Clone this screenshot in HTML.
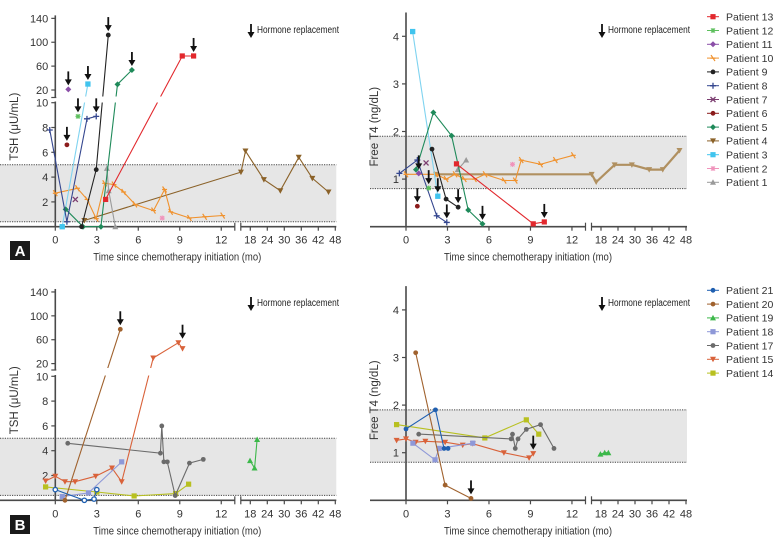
<!DOCTYPE html>
<html><head><meta charset="utf-8">
<style>
html,body{margin:0;padding:0;background:#fff;}
svg{display:block;font-family:"Liberation Sans",sans-serif;}
</style></head>
<body>
<svg id="chart" width="777" height="543" viewBox="0 0 777 543" xmlns="http://www.w3.org/2000/svg"></svg>
<script>
// ===== Panel A TSH data (months, values) =====
const aT13m=[3.64,9.18,10.0], aT13v=[2.2,77,77];
const aT12m=[1.64], aT12v=[8.9];
const aT11m=[0.94], aT11v=[21];
const aT10m=[0,1.6,2.3,2.96,3.57,4.24,4.94,5.76,7.1,7.9,8.34,9.7,10.8,12.1], aT10v=[2.7,3.1,2.2,0.65,3.5,3.4,2.8,1.8,1.3,3.0,1.2,0.7,0.8,0.9];
const aT9m=[1.9,2.96,3.83], aT9v=[0,4.6,112];
const aT8m=[-0.4,0.84,2.29,2.96], aT8v=[7.8,0.4,8.7,8.9];
const aT7m=[1.45], aT7v=[2.2];
const aT6m=[0.84], aT6v=[6.6];
const aT5m=[0.75,2.0,3.3,4.5,5.54], aT5v=[1.4,0,0,29.5,53.5];
const aT4m=[2.1,14.7,16.3,22.8,28.6,35.1,39.9,45.6], aT4v=[0.5,4.4,6.1,3.8,2.9,5.6,3.9,2.8];
const aT3m=[0.5,2.36], aT3v=[0,30];
const aT2m=[7.73], aT2v=[0.7];
const aT1m=[3.73,3.86,4.34], aT1v=[4.7,2.9,0];
const aTarrM=[0.94,2.36,3.83,5.54,10.0,1.64,2.96,0.84], aTarrV=[21,30,112,53.5,77,8.9,8.9,6.6];
// ===== Panel A FT4 =====
const aF13m=[3.65,9.2,10.0], aF13v=[1.32,0.06,0.1];
const aF12m=[1.64], aF12v=[0.81];
const aF11m=[0.92], aF11v=[1.12];
const aF10m=[0,2.17,2.9,3.55,4.22,4.95,5.72,7.1,7.9,8.33,9.73,10.8,12.1], aF10v=[1.1,1.1,1.0,1.1,1.0,1.0,1.1,0.97,0.97,1.4,1.31,1.4,1.5];
const aF9m=[1.88,2.9,3.77], aF9v=[1.63,0.58,0.41];
const aF8m=[-0.48,0.82,2.22,2.95], aF8v=[1.12,1.4,0.23,0.09];
const aF7m=[1.45], aF7v=[1.34];
const aF6m=[0.82], aF6v=[0.43];
const aF5m=[0.72,1.98,3.3,4.5,5.53], aF5v=[1.2,2.4,1.91,0.35,0.06];
const aF4m=[2.17,14.7,16.3,22.8,28.9,35.0,39.8,45.7], aF4v=[1.1,1.1,0.94,1.3,1.3,1.2,1.2,1.6];
const aF3m=[0.48,2.3], aF3v=[4.1,0.64];
const aF2m=[7.7], aF2v=[1.31];
const aF1m=[3.74,4.35], aF1v=[1.2,1.4];
const aFarrM=[0.92,0.82,1.64,2.3,2.95,3.77,5.53,10.0], aFarrV=[1.12,0.43,0.81,0.64,0.09,0.41,0.06,0.1];
// ===== Panel B TSH =====
const bT21m=[0,2.1,2.8,3.0], bT21v=[0.86,0,0.1,0.86];
const bT20m=[0.7,4.7], bT20v=[0,77.5];
const bT19m=[17.9,19.5,20.4], bT19v=[3.2,2.6,4.9];
const bT18m=[0.5,2.4,4.8], bT18v=[0.3,0.6,3.1];
const bT17m=[0.9,7.6,7.7,7.85,8.1,8.67,9.7,10.7], bT17v=[4.6,3.8,6.0,3.1,3.1,0.38,3.0,3.3];
const bT15m=[-0.7,0,0.7,1.43,2.92,4.1,4.8,7.08,8.9,9.2], bT15v=[1.56,1.94,1.5,1.5,1.94,2.6,1.5,29.4,55,45];
const bT14m=[-0.7,3.0,5.7,8.7,9.64], bT14v=[1.08,0.67,0.35,0.54,1.3];
const bTarrM=[4.7,9.2], bTarrV=[77.5,55];
// ===== Panel B FT4 =====
const bF21m=[0,2.13,2.75,3.04], bF21v=[1.5,1.9,1.09,1.09];
const bF20m=[0.7,2.83,4.7], bF20v=[3.1,0.32,0.04];
const bF19m=[17.8,19.3,20.6], bF19v=[0.97,1.0,1.0];
const bF18m=[0.5,2.1,2.4,4.83], bF18v=[1.2,0.85,1.09,1.2];
const bF17m=[0.92,7.6,7.7,7.9,8.1,8.7,9.73,10.7], bF17v=[1.39,1.29,1.39,1.09,1.29,1.49,1.59,1.09];
const bF15m=[-0.68,0,0.7,1.4,2.83,4.1,4.83,7.08,8.9,9.2], bF15v=[1.26,1.29,1.22,1.24,1.22,1.16,1.19,1.0,0.89,0.98];
const bF14m=[-0.68,5.7,8.7,9.6], bF14v=[1.59,1.31,1.69,1.39];
const bFarrM=[4.7,9.2], bFarrV=[0.04,0.98];
// tick labels
const xTicksLeft=[0,3,6,9,12], xTicksRight=[18,24,30,36,42,48];
const tshTicksLow=[2,4,6,8,10], tshTicksHigh=[20,60,100,140], ft4Ticks=[1,2,3,4];

const NS="http://www.w3.org/2000/svg";
const svg=document.getElementById('chart');
function el(tag,attrs,parent,text){const e=document.createElementNS(NS,tag);for(const k in attrs)e.setAttribute(k,attrs[k]);if(text!==undefined)e.textContent=text;(parent||svg).appendChild(e);return e;}

const AX="#4a4a4a";
function xs(P,m){return m<=13.5?P.x0+m*13.83:P.x0+195+(m-18)*17/6;}
function ysT(P,v){return v<=10?P.y0-v*12.4:P.y0-136.7-(v-20)*0.597;}
function ysF(P,v){return P.y0-v*47.6;}

function marker(g,shape,x,y,c){
  let e;
  if(shape==='sq'){e=el('rect',{x:x-2.6,y:y-2.6,width:5.2,height:5.2,fill:c},g);}
  else if(shape==='ci'){e=el('circle',{cx:x,cy:y,r:2.4,fill:c},g);}
  else if(shape==='oc'){e=el('circle',{cx:x,cy:y,r:2.2,fill:'#fff',stroke:c,'stroke-width':1.3},g);}
  else if(shape==='td'){e=el('polygon',{points:`${x-3},${y-2.5} ${x+3},${y-2.5} ${x},${y+3}`,fill:c},g);}
  else if(shape==='tu'){e=el('polygon',{points:`${x-3},${y+2.5} ${x+3},${y+2.5} ${x},${y-3}`,fill:c},g);}
  else if(shape==='pl'){e=el('path',{d:`M${x-3} ${y}H${x+3}M${x} ${y-3}V${y+3}`,stroke:c,'stroke-width':1.3},g);}
  else if(shape==='x'){e=el('path',{d:`M${x-2.5} ${y-2.5}L${x+2.5} ${y+2.5}M${x-2.5} ${y+2.5}L${x+2.5} ${y-2.5}`,stroke:c,'stroke-width':1.3},g);}
  else if(shape==='st'){e=el('path',{d:`M${x-2.5} ${y}H${x+2.5}M${x} ${y-2.5}V${y+2.5}M${x-2} ${y-2}L${x+2} ${y+2}M${x-2} ${y+2}L${x+2} ${y-2}`,stroke:c,'stroke-width':1.1},g);}
  else if(shape==='dm'){e=el('polygon',{points:`${x},${y-3} ${x+3},${y} ${x},${y+3} ${x-3},${y}`,fill:c},g);}
  else if(shape==='od'){e=el('path',{d:`M${x-2} ${y-3}L${x+2} ${y+3}M${x-2.5} ${y}H${x+2.5}`,stroke:c,'stroke-width':1.2},g);}
  
  
}

function drawSeries(P,ys,name,ms,vs,color,shape,lw){
  const g=el('g',{},P.g);
  
  
  if(ms.length>1){
    const d=ms.map((m,i)=>(i?'L':'M')+xs(P,m).toFixed(1)+' '+ys(P,vs[i]).toFixed(1)).join('');
    const p=el('path',{d:d,fill:'none',stroke:color,'stroke-width':lw||1.1},g);
    
    
  }
  ms.forEach((m,i)=>marker(g,shape,xs(P,m),ys(P,vs[i]),color));
}

function arrow(parent,x,yTip,name){
  const g=el('g',{},parent);
  
  
  el('line',{x1:x,y1:yTip-14,x2:x,y2:yTip-4,stroke:'#111','stroke-width':1.8},g);
  el('polygon',{points:`${x-3.5},${yTip-6} ${x+3.5},${yTip-6} ${x},${yTip}`,fill:'#111'},g);
}

function xAxis(P,g){
  el('line',{x1:P.bx0,y1:P.y0,x2:P.x0+179.5,y2:P.y0,stroke:AX,'stroke-width':1.6},g);
  el('line',{x1:P.x0+185.5,y1:P.y0,x2:P.x0+281,y2:P.y0,stroke:AX,'stroke-width':1.6},g);
  el('line',{x1:P.x0+179.5,y1:P.y0-4,x2:P.x0+179.5,y2:P.y0+4,stroke:AX,'stroke-width':1.2},g);
  el('line',{x1:P.x0+185.5,y1:P.y0-4,x2:P.x0+185.5,y2:P.y0+4,stroke:AX,'stroke-width':1.2},g);
  xTicksLeft.concat(xTicksRight).forEach(t=>{
    const x=xs(P,t);
    el('line',{x1:x,y1:P.y0,x2:x,y2:P.y0+4,stroke:AX,'stroke-width':1.2},g);
    const tx=el('text',{x:x,y:P.y0+17,'font-size':11,fill:'#333','text-anchor':'middle'},g,String(t));
    
    
  });
  const tt=el('text',{x:P.x0+38,y:P.y0+34,'font-size':11,fill:'#333',textLength:168,lengthAdjust:'spacingAndGlyphs'},g,'Time since chemotherapy initiation (mo)');
  
  
}

function band(P,g,yTop,yBot){
  const r=el('rect',{x:P.bx0,y:yTop,width:P.x0+281-P.bx0,height:yBot-yTop,fill:'#e6e6e6'},g);
  
  
  el('line',{x1:P.bx0,y1:yTop,x2:P.x0+281,y2:yTop,stroke:'#444','stroke-width':1,'stroke-dasharray':'1.2,1.2'},g);
  el('line',{x1:P.bx0,y1:yBot,x2:P.x0+281,y2:yBot,stroke:'#444','stroke-width':1,'stroke-dasharray':'1.2,1.2'},g);
}

function hrLegend(g,x,y){
  const lg=el('g',{},g);
  
  
  arrow(lg,x,y+6,'legend-arrow');
  el('text',{x:x+6,y:y+1,'font-size':10,fill:'#222',textLength:82,lengthAdjust:'spacingAndGlyphs'},lg,'Hormone replacement');
}

function tshPanel(P,name,mask){
  const g=el('g',{});P.g=g;
  band(P,g,ysT(P,5),ysT(P,0.4));
  xAxis(P,g);
  el('line',{x1:P.x0,y1:ysT(P,145),x2:P.x0,y2:mask[0]+1,stroke:AX,'stroke-width':1.6},g);
  el('line',{x1:P.x0,y1:mask[1]-1,x2:P.x0,y2:P.y0,stroke:AX,'stroke-width':1.6},g);
  el('line',{x1:P.x0-4,y1:mask[0]+1,x2:P.x0+1,y2:mask[0]+1,stroke:AX,'stroke-width':1.2},g);
  tshTicksLow.forEach(t=>{const y=ysT(P,t);el('line',{x1:P.x0-4,y1:y,x2:P.x0,y2:y,stroke:AX,'stroke-width':1.2},g);
    const tx=el('text',{x:P.x0-7,y:y+4,'font-size':11,fill:'#333','text-anchor':'end'},g,String(t));});
  tshTicksHigh.forEach(t=>{const y=ysT(P,t);el('line',{x1:P.x0-4,y1:y,x2:P.x0,y2:y,stroke:AX,'stroke-width':1.2},g);
    const tx=el('text',{x:P.x0-7,y:y+4,'font-size':11,fill:'#333','text-anchor':'end'},g,String(t));});
  const yt=el('text',{x:0,y:0,'font-size':11.5,fill:'#333','text-anchor':'middle',transform:`translate(18,${P.y0-100}) rotate(-90)`},g,'TSH (μU/mL)');
  
  return g;
}
function ft4Panel(P,name){
  const g=el('g',{});P.g=g;
  band(P,g,ysF(P,1.9),ysF(P,0.8));
  xAxis(P,g);
  el('line',{x1:P.x0,y1:ysF(P,4.5),x2:P.x0,y2:P.y0,stroke:AX,'stroke-width':1.6},g);
  ft4Ticks.forEach(t=>{const y=ysF(P,t);el('line',{x1:P.x0-4,y1:y,x2:P.x0,y2:y,stroke:AX,'stroke-width':1.2},g);
    const tx=el('text',{x:P.x0-7,y:y+4,'font-size':11,fill:'#333','text-anchor':'end'},g,String(t));});
  const yt=el('text',{x:0,y:0,'font-size':11.5,fill:'#333','text-anchor':'middle',transform:`translate(378,${P.y0-100}) rotate(-90)`},g,'Free T4 (ng/dL)');
  
  return g;
}
function legend(x,y,items,name){
  const g=el('g',{});
  items.forEach((it,i)=>{
    const yy=y+i*13.8;
    const e=el('g',{},g);
    
    
    el('line',{x1:x-6,y1:yy,x2:x+6,y2:yy,stroke:it[1],'stroke-width':1},e);
    marker(e,it[2],x,yy,it[1]);
    el('text',{x:x+13,y:yy+3.8,'font-size':10.5,fill:'#333'},e,it[0]);
  });
}
function panelBadge(x,y,t){
  const g=el('g',{});
  el('rect',{x:x,y:y,width:20,height:19,fill:'#1a1a1a'},g);
  el('text',{x:x+10,y:y+15,'font-size':15,'font-weight':'bold',fill:'#fff','text-anchor':'middle'},g,t);
}

const C={p13:'#e2282d',p12:'#5dbf5d',p11:'#8b4fa8',p10:'#f0922e',p9:'#222',p8:'#34468f',p7:'#7b3d70',p6:'#8b1c1c',p5:'#1f8a5a',p4:'#8b6229',p3:'#40c4ee',p2:'#f093bb',p1:'#9a9a9a',
 p21:'#1f5fb0',p20:'#a0622e',p19:'#3cb84a',p18:'#8e98d8',p17:'#6b6b6b',p15:'#d9623a',p14:'#b8c020'};

const PA={x0:55.3,y0:226.7,bx0:0};
const gA=tshPanel(PA,'panel-a-tsh',[96.5,102.5]);
const aSeries=[['patient-4',aT4m,aT4v,C.p4,'td'],['patient-10',aT10m,aT10v,C.p10,'od'],['patient-1',aT1m,aT1v,C.p1,'tu'],['patient-2',aT2m,aT2v,C.p2,'st'],
 ['patient-3',aT3m,aT3v,'#7fd3f0','sq'],['patient-5',aT5m,aT5v,C.p5,'dm'],['patient-6',aT6m,aT6v,C.p6,'ci'],['patient-7',aT7m,aT7v,C.p7,'x'],
 ['patient-8',aT8m,aT8v,C.p8,'pl'],['patient-9',aT9m,aT9v,C.p9,'ci'],['patient-11',aT11m,aT11v,C.p11,'dm'],['patient-12',aT12m,aT12v,C.p12,'st'],['patient-13',aT13m,aT13v,C.p13,'sq']];
aSeries.forEach(s=>drawSeries(PA,ysT,s[0],s[1],s[2],s[3],s[4]));
el('rect',{x:57,y:96.5,width:178,height:6,fill:'#fff'},gA);
aT3m.forEach((m,i)=>marker(gA,'sq',xs(PA,m),ysT(PA,aT3v[i]),C.p3));
aTarrM.forEach((m,i)=>arrow(gA,xs(PA,m),ysT(PA,aTarrV[i])-4,'hormone-arrow'));
hrLegend(gA,251,32);
panelBadge(10,241,'A');

const PAF={x0:406,y0:226.7,bx0:370};
const gAF=ft4Panel(PAF,'panel-a-ft4');
const afSeries=[['patient-4',aF4m,aF4v,'#b09060','td',2.2],['patient-10',aF10m,aF10v,C.p10,'od'],['patient-1',aF1m,aF1v,C.p1,'tu'],['patient-2',aF2m,aF2v,C.p2,'st'],
 ['patient-3',aF3m,aF3v,'#7fd3f0','sq'],['patient-5',aF5m,aF5v,C.p5,'dm'],['patient-6',aF6m,aF6v,C.p6,'ci'],['patient-7',aF7m,aF7v,C.p7,'x'],
 ['patient-8',aF8m,aF8v,C.p8,'pl'],['patient-9',aF9m,aF9v,C.p9,'ci'],['patient-11',aF11m,aF11v,C.p11,'dm'],['patient-12',aF12m,aF12v,C.p12,'st'],['patient-13',aF13m,aF13v,C.p13,'sq']];
afSeries.forEach(s=>drawSeries(PAF,ysF,s[0],s[1],s[2],s[3],s[4],s[5]));
aF3m.forEach((m,i)=>marker(gAF,'sq',xs(PAF,m),ysF(PAF,aF3v[i]),C.p3));
aFarrM.forEach((m,i)=>arrow(gAF,xs(PAF,m),ysF(PAF,aFarrV[i])-4,'hormone-arrow'));
hrLegend(gAF,602,32);
legend(713,16.7,[['Patient 13',C.p13,'sq'],['Patient 12',C.p12,'st'],['Patient 11',C.p11,'dm'],['Patient 10',C.p10,'od'],['Patient 9',C.p9,'ci'],['Patient 8',C.p8,'pl'],['Patient 7',C.p7,'x'],['Patient 6',C.p6,'ci'],['Patient 5',C.p5,'dm'],['Patient 4',C.p4,'td'],['Patient 3',C.p3,'sq'],['Patient 2',C.p2,'st'],['Patient 1',C.p1,'tu']],'legend-a');

const PB={x0:55.3,y0:500.3,bx0:0};
const gB=tshPanel(PB,'panel-b-tsh',[369,376]);
const bSeries=[['patient-14',bT14m,bT14v,C.p14,'sq'],['patient-17',bT17m,bT17v,C.p17,'ci'],['patient-15',bT15m,bT15v,C.p15,'td'],['patient-18',bT18m,bT18v,C.p18,'sq'],
 ['patient-19',bT19m,bT19v,C.p19,'tu'],['patient-20',bT20m,bT20v,C.p20,'ci'],['patient-21',bT21m,bT21v,C.p21,'oc']];
bSeries.forEach(s=>drawSeries(PB,ysT,s[0],s[1],s[2],s[3],s[4]));
el('rect',{x:57,y:368,width:178,height:7.5,fill:'#fff'},gB);
bTarrM.forEach((m,i)=>arrow(gB,xs(PB,m),ysT(PB,bTarrV[i])-4,'hormone-arrow'));
hrLegend(gB,251,305);
panelBadge(10,515,'B');

const PBF={x0:406,y0:500.3,bx0:370};
const gBF=ft4Panel(PBF,'panel-b-ft4');
const bfSeries=[['patient-14',bF14m,bF14v,C.p14,'sq'],['patient-17',bF17m,bF17v,C.p17,'ci'],['patient-15',bF15m,bF15v,C.p15,'td'],['patient-18',bF18m,bF18v,C.p18,'sq'],
 ['patient-19',bF19m,bF19v,C.p19,'tu'],['patient-20',bF20m,bF20v,C.p20,'ci'],['patient-21',bF21m,bF21v,C.p21,'ci']];
bfSeries.forEach(s=>drawSeries(PBF,ysF,s[0],s[1],s[2],s[3],s[4]));
bFarrM.forEach((m,i)=>arrow(gBF,xs(PBF,m),ysF(PBF,bFarrV[i])-4,'hormone-arrow'));
hrLegend(gBF,602,305);
legend(713,290.3,[['Patient 21',C.p21,'ci'],['Patient 20',C.p20,'ci'],['Patient 19',C.p19,'tu'],['Patient 18',C.p18,'sq'],['Patient 17',C.p17,'ci'],['Patient 15',C.p15,'td'],['Patient 14',C.p14,'sq']],'legend-b');
</script>
</body></html>
